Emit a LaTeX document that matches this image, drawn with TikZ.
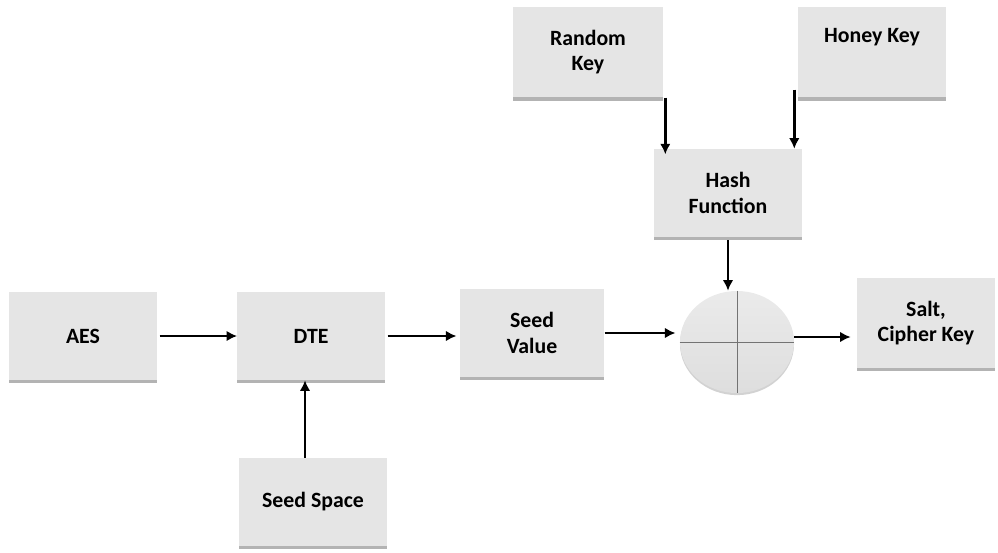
\documentclass[tikz,border=0pt]{standalone}
\usepackage{fontspec}
\setmainfont{Carlito}
\usepackage{tikz}
\usetikzlibrary{arrows.meta,shadows,calc,shapes.geometric}

\begin{document}
\begin{tikzpicture}[x=0.025cm,y=-0.025cm,
    blk/.style={fill=black!10, minimum width=3.68cm, minimum height=2.2cm, align=center,
      font=\fontsize{15.5}{18}\selectfont\bfseries,
      drop shadow={shadow xshift=0pt,shadow yshift=-2.4pt,fill=black!50,opacity=.6}},
    arr/.style={-{Latex[length=7.5pt,width=7.5pt]}, line width=1.7pt}]
  \useasboundingbox (0,0) rectangle (998,552);
  % boxes
  \node[blk] (aes) at (83,336) {AES};
  \node[blk] (dte) at (311,336) {DTE};
  \node[blk, minimum width=3.62cm] (sv) at (532,333) {Seed\\Value};
  \node[blk, minimum height=2.27cm, minimum width=3.75cm] (rk) at (588,52) {Random\\Key};
  \node[blk, minimum height=2.27cm, minimum width=3.72cm] (hk) at (872,52) {Honey Key\\\strut};
  \node[blk] (hash) at (728,193) {Hash\\Function};
  \node[blk, minimum width=3.47cm, minimum height=2.25cm] (salt) at (926,323) {Salt,\\Cipher Key};
  \node[blk] (ss) at (313,502) {Seed Space};
  % combiner
  \node[ellipse, minimum width=2.85cm, minimum height=2.55cm, top color=black!8, bottom color=black!13,
    drop shadow={shadow xshift=0pt,shadow yshift=-1.5pt,fill=black!35,opacity=.5}] (xor) at (737,342) {};
  \draw[black!55, line width=0.5pt] (xor.north) -- (xor.south) (xor.west) -- (xor.east);
  % connectors
  \draw[arr, shorten <=2pt] (aes) -- (dte);
  \draw[arr, shorten <=2pt, shorten >=2pt] (dte) -- (dte -| sv.west);
  \draw[arr, shorten >=3pt] (sv) -- (sv -| xor.west);
  \draw[arr, shorten >=4pt] ($(xor.east)+(0,-5)$) coordinate (o) -- (o -| salt.west);
  \draw[arr] ($(ss.north)+(-8,0)$) coordinate (s) -- (s |- dte.south);
  \draw[arr, shorten <=2pt] (hash) -- (hash |- xor.north);
  \draw[arr, shorten >=-4pt] ($(rk.south east)+(2,0)$) coordinate (r) -- (r |- hash.north);
  \draw[arr] ($(hk.south west)+(-3,-8)$) coordinate (h) -- (h |- hash.north);
\end{tikzpicture}
\end{document}
